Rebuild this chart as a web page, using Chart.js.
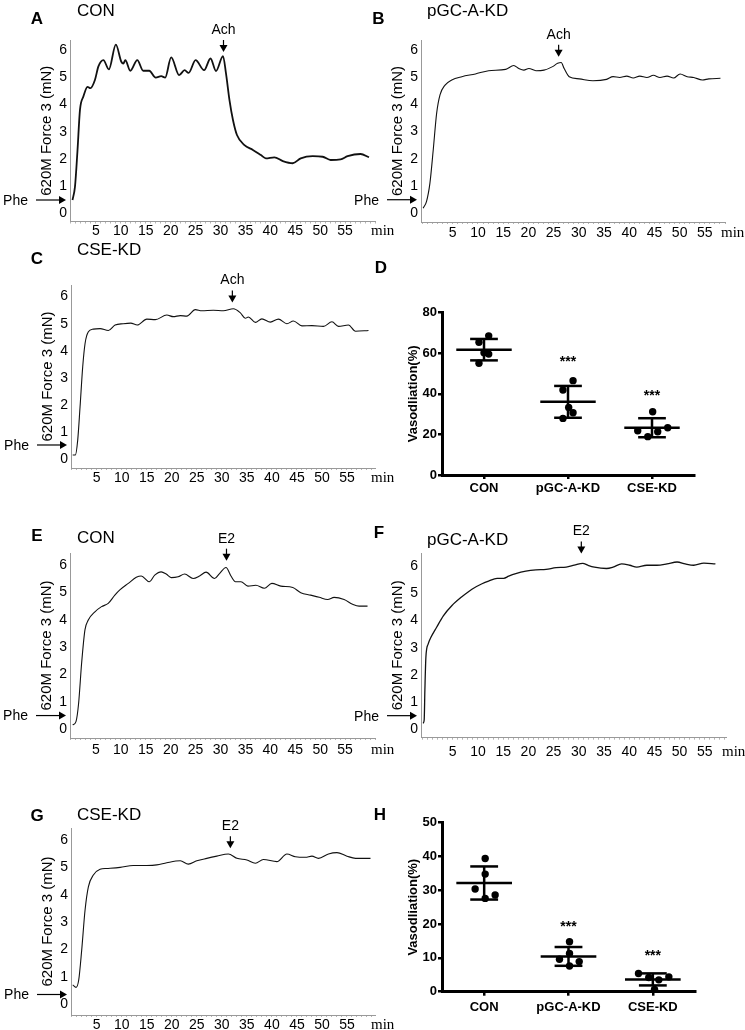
<!DOCTYPE html>
<html>
<head>
<meta charset="utf-8">
<script src="https://cdn.jsdelivr.net/npm/chart.js@4.4.1/dist/chart.umd.min.js"></script>
<style>
  body { margin: 0; background: #fff; }
  #fig { position: relative; width: 745px; height: 1030px; overflow: hidden; background: #fff; }
  #fig canvas { position: absolute; }
</style>
</head>
<body>
<div id="fig">
  <canvas id="cA"></canvas>
  <canvas id="cB"></canvas>
  <canvas id="cC"></canvas>
  <canvas id="cD"></canvas>
  <canvas id="cE"></canvas>
  <canvas id="cF"></canvas>
  <canvas id="cG"></canvas>
  <canvas id="cH"></canvas>
</div>
<script>
// --- force traces (min, mN) ---
const aTime  = [0.3,0.8,1.3,1.8,2.5,3.3,3.9,4.8,5.5,6.5,7.6,9.0,10.1,10.5,10.9,11.9,13.3,14.5,15.7,17.0,18.1,18.9,20.1,21.7,22.8,23.6,25.0,26.7,28.0,29.1,30.5,31.1,31.8,32.5,33.3,34.8,36.5,38.1,39.1,40.8,42.5,44.5,46.1,48.5,50.5,52.1,54.1,55.5,58.1,59.8];
const aForce = [0.49,0.98,2.3,3.8,4.3,4.65,4.6,4.9,5.4,5.63,5.29,6.2,5.57,5.5,5.63,5.24,5.63,5.24,5.24,4.99,5.04,4.99,5.73,5.08,5.26,5.16,5.63,5.26,5.69,5.23,5.78,5.14,4.16,3.43,2.88,2.51,2.33,2.14,2.02,2.06,1.92,1.84,2.02,2.1,2.08,1.96,1.98,2.1,2.18,2.06];

const bTime  = [-0.87,-0.2,0.47,1.13,1.8,2.47,3.47,4.8,6.8,9.5,12.1,15.5,17.1,18.1,19.1,20.1,21.5,23.1,24.8,25.8,26.5,27.1,28.1,30.1,32.8,35.5,36.8,38.1,39.5,40.8,42.1,43.5,44.8,46.1,47.5,48.8,50.1,51.5,52.8,54.5,55.8,58.1];
const bForce = [0.18,0.43,1.1,2.33,3.67,4.35,4.71,4.9,5.02,5.12,5.24,5.29,5.43,5.32,5.26,5.32,5.24,5.26,5.39,5.51,5.54,5.32,5.02,4.94,4.87,4.92,5.02,4.99,5.04,4.97,5.04,4.99,5.07,4.99,5.04,4.97,5.12,5.02,4.99,4.9,4.94,4.96];

const cTime  = [0.2,0.73,1.2,1.67,2.2,2.67,3.33,4.33,5.67,7.33,8.67,10.3,11.8,13.1,15,16.7,19,20.3,21.7,23,24.7,26,28.3,30.3,32.3,33.7,34.7,35.3,36.7,38,39.7,41.3,43,44.3,46,48,50.3,52,53.3,55.3,56.7,59.3];
const cForce = [0.15,0.15,0.7,1.93,3.41,4.27,4.7,4.8,4.82,4.75,4.95,5.0,5.02,4.95,5.17,5.15,5.32,5.26,5.3,5.28,5.52,5.48,5.5,5.48,5.55,5.4,5.2,5.25,5.05,5.18,5.06,5.17,5.0,5.1,4.92,4.93,4.9,5.07,4.9,4.95,4.72,4.75];

const eTime  = [0.33,1,1.53,2.13,2.8,3.47,4.8,6.13,7.47,8.8,9.8,11.5,13.1,14.1,15.7,16.8,18.1,19.1,20.1,21.5,22.8,24.5,25.8,27.1,28.8,29.8,31.1,32.1,33,34.1,35.5,37.1,38.8,40.3,42.1,44.5,46.1,48.1,49.8,51.5,52.8,54.8,56.5,57.8,59.5];
const eForce = [0.16,0.28,0.95,2.41,3.63,3.99,4.29,4.48,4.6,4.9,5.09,5.33,5.55,5.6,5.39,5.63,5.75,5.67,5.54,5.57,5.67,5.51,5.6,5.74,5.51,5.69,5.91,5.6,5.39,5.39,5.23,5.26,5.15,5.33,5.23,5.18,4.99,4.9,4.82,4.74,4.82,4.74,4.57,4.5,4.5];

const fTime  = [-0.87,-0.67,-0.53,-0.33,0.13,0.67,1.8,3.13,4.8,6.8,8.8,10.8,12.1,13.8,15.1,16.1,17.5,19.5,21.5,23.5,25.5,27.5,29.1,30.8,31.8,33.1,35.5,36.8,38.5,40.1,41.5,43.5,45.5,47.5,49.5,51.1,52.8,54.8,57.1];
const fForce = [0.22,0.34,1.44,2.65,3.14,3.38,3.75,4.17,4.54,4.87,5.15,5.35,5.45,5.55,5.55,5.63,5.72,5.81,5.86,5.88,5.94,5.96,6.03,6.1,6.03,5.96,5.91,5.96,6.08,6.03,5.96,6.03,6.03,6.08,6.15,6.08,6.03,6.11,6.08];

const gTime  = [0.2,0.87,1.4,2,2.67,3.33,4.33,5.67,7,9.67,12.3,15,17,19,21.7,23.3,25,27,29,31.3,33,35,36.7,38.3,41,43,44.7,46.7,48,49.3,51.3,53,55,56.7,59.7];
const gForce = [0.7,0.61,0.88,1.98,3.44,4.29,4.72,4.93,4.96,5,5.07,5.07,5.09,5.17,5.24,5.12,5.24,5.33,5.41,5.49,5.33,5.27,5.15,5.29,5.21,5.49,5.39,5.37,5.41,5.33,5.49,5.54,5.41,5.33,5.33];

// --- vasodilation scatter (%) ---
const groups = ['CON', 'pGC-A-KD', 'CSE-KD'];
const achCon = [68.6, 65.4, 60.2, 59.6, 55.1];
const achPgc = [46.5, 41.9, 33.3, 30.7, 27.9];
const achCse = [31.2, 21.8, 21.3, 23.3, 18.9];
const e2Con  = [39.4, 34.8, 30.4, 28.6, 27.6];
const e2Pgc  = [14.8, 11.3, 9.6, 8.9, 7.6];
const e2Cse  = [5.4, 4.2, 3.5, 4.4, 0.7];
// horizontal scatter of the dots inside each column (category units)
const achSpread = [[0.056,-0.06,0,0.056,-0.06],[0.06,-0.06,0.008,0.06,-0.06],[0.008,-0.17,0.068,0.187,-0.05]];
const e2Spread  = [[0.012,0.012,-0.107,0.13,0.012],[0.012,0.012,-0.107,0.127,0.012],[-0.17,-0.048,0.071,0.19,0.02]];
const minuteLabels = [5,10,15,20,25,30,35,40,45,50,55];

const FONT = 'Arial, "Liberation Sans", Helvetica, sans-serif';
const SERIF = '"Times New Roman", "Liberation Serif", serif';
Chart.defaults.font.family = FONT;
Chart.defaults.color = '#000';

function place(id, box) {
  const cv = document.getElementById(id);
  cv.width = box.w; cv.height = box.h;
  Object.assign(cv.style, {left: box.x + 'px', top: box.y + 'px', width: box.w + 'px', height: box.h + 'px'});
  return cv;
}

function arrowDown(ctx, x, tip) {
  ctx.lineWidth = 1.2;
  ctx.beginPath(); ctx.moveTo(x, tip - 12); ctx.lineTo(x, tip - 6); ctx.stroke();
  ctx.beginPath(); ctx.moveTo(x - 4, tip - 7); ctx.lineTo(x + 4, tip - 7); ctx.lineTo(x, tip); ctx.closePath(); ctx.fill();
}
function arrowRight(ctx, x0, x1, y) {
  ctx.lineWidth = 1.2;
  ctx.beginPath(); ctx.moveTo(x0, y); ctx.lineTo(x1 - 6, y); ctx.stroke();
  ctx.beginPath(); ctx.moveTo(x1 - 7, y - 4); ctx.lineTo(x1 - 7, y + 4); ctx.lineTo(x1, y); ctx.closePath(); ctx.fill();
}

// letters, titles, stimulus arrows, Phe arrow, "min", stars
const decoPlugin = {
  id: 'deco',
  afterDraw(chart, args, o) {
    const {ctx, chartArea: area, scales} = chart;
    ctx.save();
    ctx.fillStyle = '#000'; ctx.strokeStyle = '#000';
    ctx.textBaseline = 'middle';
    ctx.font = 'bold 17px ' + FONT; ctx.textAlign = 'center';
    ctx.fillText(o.letter[0], o.letter[1], o.letter[2]);
    if (o.title) {
      ctx.font = '17px ' + FONT; ctx.textAlign = 'left';
      ctx.fillText(o.title[0], o.title[1], o.title[2]);
    }
    if (o.cue) {
      const x = scales.x.getPixelForValue(o.cue.at), tip = scales.y.getPixelForValue(o.cue.tip);
      arrowDown(ctx, x, tip);
      ctx.font = '14px ' + FONT; ctx.textAlign = 'center';
      ctx.fillText(o.cue.text, x, tip - 22);
    }
    if (o.phe != null) {
      const y = scales.y.getPixelForValue(o.phe);
      arrowRight(ctx, area.left - 34, area.left - 4, y);
      ctx.font = '14px ' + FONT; ctx.textAlign = 'right';
      ctx.fillText('Phe', area.left - 42, y + 1);
    }
    if (o.gap) {
      ctx.font = '15px ' + SERIF; ctx.textAlign = 'left';
      ctx.fillText('min', area.right - 4, area.bottom + o.gap);
    }
    (o.stars || []).forEach(s => {
      ctx.font = 'bold 14px ' + FONT; ctx.textAlign = 'center';
      ctx.fillText('***', scales.x.getPixelForValue(s[0]), scales.y.getPixelForValue(s[1]) + 4);
    });
    ctx.restore();
  }
};

// mean line and SD whiskers for each column
const meanSdPlugin = {
  id: 'meanSd',
  afterDatasetsDraw(chart) {
    const {ctx, scales: {x, y}} = chart;
    const seg = (x0, y0, x1, y1) => { ctx.beginPath(); ctx.moveTo(x0, y0); ctx.lineTo(x1, y1); ctx.stroke(); };
    ctx.save();
    ctx.strokeStyle = '#000'; ctx.lineWidth = 2.5;
    chart.data.datasets.forEach((ds, g) => {
      const vals = ds.data.map(p => p.y);
      const m = vals.reduce((s, v) => s + v, 0) / vals.length;
      const sd = Math.sqrt(vals.reduce((s, v) => s + (v - m) * (v - m), 0) / (vals.length - 1));
      const xc = x.getPixelForValue(g);
      seg(x.getPixelForValue(g - 0.33), y.getPixelForValue(m), x.getPixelForValue(g + 0.33), y.getPixelForValue(m));
      seg(xc, y.getPixelForValue(m - sd), xc, y.getPixelForValue(m + sd));
      [m - sd, m + sd].forEach(v => seg(x.getPixelForValue(g - 0.165), y.getPixelForValue(v), x.getPixelForValue(g + 0.165), y.getPixelForValue(v)));
    });
    ctx.restore();
  }
};

function forceChart(p) {
  const c = p.canvas, a = p.area;
  const cv = place(p.id, c);
  return new Chart(cv, {
    type: 'line',
    data: { datasets: [{
      data: p.t.map((t, i) => ({x: t, y: p.v[i]})),
      borderColor: '#111', borderWidth: p.lw, pointRadius: 0,
      cubicInterpolationMode: 'monotone', fill: false
    }] },
    options: {
      responsive: false, animation: false,
      layout: { padding: { top: a.t - c.y, right: c.x + c.w - a.r, left: 0, bottom: 0 } },
      plugins: {
        legend: { display: false }, tooltip: { enabled: false },
        deco: {
          letter: [p.letter[0], p.letter[1] - c.x, p.letter[2] - c.y],
          title: [p.title[0], p.title[1] - c.x, p.title[2] - c.y],
          cue: p.cue, phe: p.phe, gap: p.gap
        }
      },
      scales: {
        x: {
          type: 'linear', min: p.x[0], max: p.x[1],
          afterFit: s => { s.height = c.y + c.h - a.b; },
          ticks: {
            stepSize: 1, autoSkip: false, maxRotation: 0, includeBounds: false,
            padding: p.gap - 10.4, font: { size: 14 }, color: '#000',
            callback: v => minuteLabels.includes(v) ? String(v) : ''
          },
          grid: { drawOnChartArea: false, drawTicks: true, tickLength: 2, color: '#b5b5b5' },
          border: { color: '#999', width: 1 }
        },
        y: {
          min: p.y[0], max: p.y[1],
          afterFit: s => { s.width = a.l - c.x; },
          ticks: {
            stepSize: 1, includeBounds: false, padding: 3, font: { size: 14 }, color: '#000',
            callback: v => (Number.isInteger(v) && v >= 0) ? String(v) : ''
          },
          grid: { drawOnChartArea: false, drawTicks: false },
          border: { color: '#999', width: 1 },
          title: { display: true, text: '620M Force 3 (mN)', font: { size: 15 }, color: '#000',
                   padding: { top: a.l - 23 - c.x - 9, bottom: 0 } }
        }
      }
    },
    plugins: [decoPlugin]
  });
}

function dotChart(p) {
  const c = p.canvas, a = p.area;
  const cv = place(p.id, c);
  return new Chart(cv, {
    type: 'scatter',
    data: { datasets: p.values.map((vals, g) => ({
      data: vals.map((v, i) => ({x: g + p.spread[g][i], y: v})),
      pointRadius: 3.7, pointBackgroundColor: '#000', pointBorderWidth: 0, showLine: false
    })) },
    options: {
      responsive: false, animation: false,
      layout: { padding: { top: a.t - c.y, right: c.x + c.w - a.r, left: 0, bottom: 0 } },
      plugins: {
        legend: { display: false }, tooltip: { enabled: false },
        deco: { letter: [p.letter[0], p.letter[1] - c.x, p.letter[2] - c.y], stars: p.stars }
      },
      scales: {
        x: {
          type: 'linear', min: -0.5, max: 2.5,
          afterBuildTicks: s => { s.ticks = groups.map((_, i) => ({value: i})); },
          afterFit: s => { s.height = c.y + c.h - a.b; },
          ticks: { autoSkip: false, maxRotation: 0, padding: p.catPad, font: { size: 13, weight: 'bold' }, color: '#000',
                   callback: v => groups[v] },
          grid: { drawOnChartArea: false, tickLength: 4, lineWidth: 2.5, color: '#000' },
          border: { color: '#000', width: 3 }
        },
        y: {
          min: 0, max: p.yMax,
          afterFit: s => { s.width = a.l - c.x; },
          ticks: { stepSize: p.yStep, padding: 1, font: { size: 13, weight: 'bold' }, color: '#000' },
          grid: { drawOnChartArea: false, tickLength: 4, lineWidth: 2.5, color: '#000' },
          border: { color: '#000', width: 3 },
          title: { display: true, text: 'Vasodliation(%)', font: { size: 13, weight: 'bold' }, color: '#000',
                   padding: { top: 413.7 - c.x - 7.8, bottom: 0 } }
        }
      }
    },
    plugins: [meanSdPlugin, decoPlugin]
  });
}

forceChart({id: 'cA', canvas: {x: 0, y: 0, w: 400, h: 245}, area: {l: 70, t: 40, r: 375, b: 221.5},
  x: [-0.2, 61], y: [-0.3, 6.37], t: aTime, v: aForce, lw: 1.8,
  letter: ['A', 37, 19], title: ['CON', 77, 11], cue: {text: 'Ach', at: 30.6, tip: 5.93}, phe: 0.49, gap: 10});
forceChart({id: 'cB', canvas: {x: 345, y: 0, w: 400, h: 245}, area: {l: 421, t: 40, r: 725, b: 222},
  x: [-1.3, 59], y: [-0.33, 6.37], t: bTime, v: bForce, lw: 1.1,
  letter: ['B', 378.5, 19], title: ['pGC-A-KD', 427, 11.7], cue: {text: 'Ach', at: 26.0, tip: 5.75}, phe: 0.49, gap: 11.3});
forceChart({id: 'cC', canvas: {x: 0, y: 240, w: 400, h: 250}, area: {l: 71, t: 285, r: 375, b: 468},
  x: [-0.14, 60.6], y: [-0.33, 6.43], t: cTime, v: cForce, lw: 1.1,
  letter: ['C', 37, 259], title: ['CSE-KD', 77, 250], cue: {text: 'Ach', at: 32.1, tip: 5.78}, phe: 0.52, gap: 10});
forceChart({id: 'cE', canvas: {x: 0, y: 500, w: 400, h: 260}, area: {l: 70, t: 553, r: 375, b: 738},
  x: [-0.2, 61], y: [-0.32, 6.44], t: eTime, v: eForce, lw: 1.1,
  letter: ['E', 37, 536], title: ['CON', 77, 538], cue: {text: 'E2', at: 31.2, tip: 6.16}, phe: 0.5, gap: 12});
forceChart({id: 'cF', canvas: {x: 345, y: 500, w: 400, h: 260}, area: {l: 421, t: 553, r: 726, b: 737.7},
  x: [-1.3, 59.2], y: [-0.31, 6.48], t: fTime, v: fForce, lw: 1.3,
  letter: ['F', 379, 533], title: ['pGC-A-KD', 427, 540], cue: {text: 'E2', at: 30.5, tip: 6.46}, phe: 0.5, gap: 14});
forceChart({id: 'cG', canvas: {x: 0, y: 770, w: 400, h: 260}, area: {l: 71, t: 828, r: 375, b: 1015},
  x: [-0.14, 60.6], y: [-0.4, 6.44], t: gTime, v: gForce, lw: 1.1,
  letter: ['G', 37, 816], title: ['CSE-KD', 77, 815], cue: {text: 'E2', at: 31.7, tip: 5.7}, phe: 0.35, gap: 10});

dotChart({id: 'cD', canvas: {x: 365, y: 245, w: 380, h: 255}, area: {l: 442, t: 312.7, r: 694, b: 475},
  values: [achCon, achPgc, achCse], spread: achSpread, yMax: 80, yStep: 20, catPad: 2,
  letter: ['D', 381, 268], stars: [[1, 57.5], [2, 40.6]]});
dotChart({id: 'cH', canvas: {x: 365, y: 770, w: 380, h: 260}, area: {l: 442, t: 822.7, r: 695, b: 991.7},
  values: [e2Con, e2Pgc, e2Cse], spread: e2Spread, yMax: 50, yStep: 10, catPad: 4,
  letter: ['H', 380, 815], stars: [[1, 20.4], [2, 11.8]]});
</script>
</body>
</html>
